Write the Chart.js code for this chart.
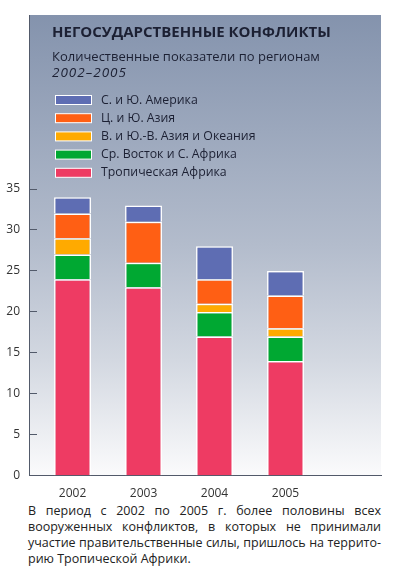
<!DOCTYPE html>
<html>
<head>
<meta charset="utf-8">
<script src="https://cdn.jsdelivr.net/npm/chart.js@4.4.1/dist/chart.umd.min.js"></script>
<style>
  html, body { margin: 0; padding: 0; background: #fff; }
  #wrap { position: relative; width: 393px; height: 500px; }
  #note {
    position: absolute; left: 28px; top: 503px; width: 353px;
    font-family: "Open Sans", sans-serif; font-size: 12.5px; line-height: 16px; color: #222;
  }
  #note div { text-align: justify; text-align-last: justify; white-space: nowrap; }
  #note div:last-child { text-align-last: left; }
</style>
</head>
<body>
<div id="wrap"><canvas id="chart"></canvas></div>
<div id="note">
  <div>В период с 2002 по 2005 г. более половины всех</div>
  <div>вооруженных конфликтов, в которых не принимали</div>
  <div>участие правительственные силы, пришлось на террито-</div>
  <div>рию Тропической Африки.</div>
</div>
<script>
// data
const years = [2002, 2003, 2004, 2005];
const tropicalAfrica = [24, 23, 17, 14];
const middleEast = [3, 3, 3, 3];
const eastAsia = [2, 0, 1, 1];
const southAsia = [3, 5, 3, 4];
const americas = [2, 2, 4, 3];

const regionNames = [
  "Тропическая Африка",
  "Ср. Восток и С. Африка",
  "В. и Ю.-В. Азия и Океания",
  "Ц. и Ю. Азия",
  "С. и Ю. Америка",
];
const regionColors = ["#ee3b63", "#00a832", "#ffaa00", "#ff5f14", "#5e6db3"];

const titleText = "НЕГОСУДАРСТВЕННЫЕ КОНФЛИКТЫ";
const subtitleText = "Количественные показатели по регионам";
const periodText = "2002–2005";

//variables
const axisColor = "#525a6a";
const textColor = "#333";
const headColor = "#1c2033";
const fontFamily = "'Open Sans', sans-serif";

const series = [tropicalAfrica, middleEast, eastAsia, southAsia, americas];

// gradient panel behind the plot, title and legend drawn on top
const panelPlugin = {
  id: "panel",
  beforeDraw(chart) {
    const { ctx, chartArea: a } = chart;
    const top = 15;
    const g = ctx.createLinearGradient(0, top, 0, a.bottom);
    g.addColorStop(0, "#8493ad");
    g.addColorStop(0.5, "#b3bccc");
    g.addColorStop(0.75, "#d3d8e1");
    g.addColorStop(1, "#fbfbfc");
    ctx.save();
    ctx.fillStyle = g;
    ctx.fillRect(a.left, top, a.right - a.left, a.bottom - top);
    ctx.strokeStyle = axisColor;
    ctx.lineWidth = 1;
    ctx.beginPath();
    ctx.moveTo(a.left + 0.5, top);
    ctx.lineTo(a.left + 0.5, a.top);
    ctx.stroke();
    ctx.restore();
  },
  afterDraw(chart) {
    const { ctx } = chart;
    ctx.save();
    ctx.textBaseline = "middle";
    ctx.textAlign = "left";
    ctx.fillStyle = headColor;
    ctx.font = `bold 15px ${fontFamily}`;
    ctx.fillText(titleText, 52, 33);
    ctx.font = `13px ${fontFamily}`;
    ctx.fillText(subtitleText, 52, 57);
    ctx.font = `italic 13.5px ${fontFamily}`;
    ctx.letterSpacing = "1px";
    ctx.fillText(periodText, 52, 73);
    ctx.letterSpacing = "0px";

    // legend, top item = last dataset
    const items = chart.data.datasets.slice().reverse();
    ctx.font = `12.3px ${fontFamily}`;
    items.forEach((ds, i) => {
      const y = 100 + i * 18.2;
      ctx.fillStyle = ds.backgroundColor;
      ctx.fillRect(55, y - 4.5, 37, 9);
      ctx.strokeStyle = "#fff";
      ctx.lineWidth = 1;
      ctx.strokeRect(55.5, y - 4.5, 36, 9);
      ctx.fillStyle = headColor;
      ctx.fillText(ds.label, 101, y);
    });
    ctx.restore();
  },
};

const chartData = {
  labels: years,
  datasets: series.map((values, i) => ({
    label: regionNames[i],
    data: values,
    backgroundColor: regionColors[i],
    borderColor: "#fff",
    borderWidth: 1.5,
    categoryPercentage: 1,
    barPercentage: 0.52,
  })),
};

const options = {
  responsive: true,
  maintainAspectRatio: false,
  animation: false,
  layout: { padding: { top: 189, right: 12, left: 0, bottom: 0 } },
  plugins: {
    legend: { display: false },
    tooltip: { enabled: false },
  },
  scales: {
    x: {
      type: "linear",
      stacked: true,
      offset: false,
      min: 2001.387,
      max: 2006.345,
      grid: { display: false },
      border: { color: axisColor, width: 1 },
      ticks: {
        stepSize: 1,
        includeBounds: false,
        autoSkip: false,
        maxRotation: 0,
        padding: 3,
        color: textColor,
        font: { family: fontFamily, size: 12 },
        callback: (v) => (years.includes(v) ? String(v) : ""),
      },
      afterFit(scale) {
        scale.height = 24;
      },
    },
    y: {
      stacked: true,
      min: 0,
      max: 35,
      border: { color: axisColor, width: 1 },
      grid: { drawOnChartArea: false, tickLength: -8, color: axisColor },
      ticks: {
        stepSize: 5,
        padding: 17,
        color: textColor,
        font: { family: fontFamily, size: 12 },
      },
      afterFit(scale) {
        scale.width = 29;
      },
    },
  },
};

new Chart(document.getElementById("chart"), {
  type: "bar",
  data: chartData,
  options,
  plugins: [panelPlugin],
});
</script>
</body>
</html>
